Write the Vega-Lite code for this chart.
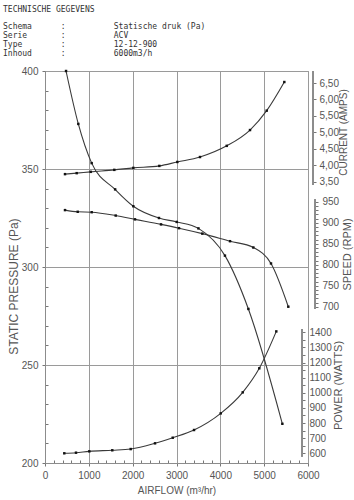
{
  "$schema": "https://vega.github.io/schema/vega-lite/v6.json",
  "width": 263,
  "height": 392,
  "autosize": {"type": "none"},
  "padding": {"left": 45, "top": 71, "right": 46, "bottom": 37},
  "title": {
    "text": "TECHNISCHE GEGEVENS",
    "subtitle": [
      "Schema\u00a0\u00a0\u00a0\u00a0\u00a0\u00a0:\u00a0\u00a0\u00a0\u00a0\u00a0\u00a0\u00a0\u00a0\u00a0\u00a0Statische druk (Pa)",
      "Serie\u00a0\u00a0\u00a0\u00a0\u00a0\u00a0\u00a0:\u00a0\u00a0\u00a0\u00a0\u00a0\u00a0\u00a0\u00a0\u00a0\u00a0ACV",
      "Type\u00a0\u00a0\u00a0\u00a0\u00a0\u00a0\u00a0\u00a0:\u00a0\u00a0\u00a0\u00a0\u00a0\u00a0\u00a0\u00a0\u00a0\u00a012-12-900",
      "Inhoud\u00a0\u00a0\u00a0\u00a0\u00a0\u00a0:\u00a0\u00a0\u00a0\u00a0\u00a0\u00a0\u00a0\u00a0\u00a0\u00a06000m3/h"
    ],
    "font": "DejaVu Sans Mono",
    "fontSize": 8,
    "fontWeight": "normal",
    "color": "#333333",
    "subtitleFont": "DejaVu Sans Mono",
    "subtitleFontSize": 8,
    "subtitleColor": "#333333",
    "subtitleLineHeight": 9,
    "subtitlePadding": 9,
    "anchor": "start",
    "frame": "group",
    "dx": -42,
    "offset": 8
  },
  "datasets": {
    "pressure": [
      {"airflow": 480, "value": 400},
      {"airflow": 760, "value": 373},
      {"airflow": 1065, "value": 353},
      {"airflow": 1600, "value": 339.6},
      {"airflow": 2015, "value": 331},
      {"airflow": 2600, "value": 325},
      {"airflow": 3005, "value": 323},
      {"airflow": 3500, "value": 319.7},
      {"airflow": 4105, "value": 305.8},
      {"airflow": 4640, "value": 278.6},
      {"airflow": 5415, "value": 220}
    ],
    "current": [
      {"airflow": 456, "value": 3.73},
      {"airflow": 723, "value": 3.76},
      {"airflow": 1043, "value": 3.8},
      {"airflow": 1581, "value": 3.86},
      {"airflow": 2015, "value": 3.92},
      {"airflow": 2608, "value": 3.98},
      {"airflow": 3019, "value": 4.1},
      {"airflow": 3536, "value": 4.25},
      {"airflow": 4146, "value": 4.59},
      {"airflow": 4677, "value": 5.07},
      {"airflow": 5058, "value": 5.66},
      {"airflow": 5460, "value": 6.53}
    ],
    "speed": [
      {"airflow": 456, "value": 930},
      {"airflow": 746, "value": 926},
      {"airflow": 1065, "value": 925},
      {"airflow": 1613, "value": 917},
      {"airflow": 2053, "value": 908},
      {"airflow": 2647, "value": 896},
      {"airflow": 3057, "value": 887},
      {"airflow": 3589, "value": 874},
      {"airflow": 4221, "value": 856},
      {"airflow": 4753, "value": 841},
      {"airflow": 5156, "value": 803},
      {"airflow": 5551, "value": 700}
    ],
    "power": [
      {"airflow": 440, "value": 600},
      {"airflow": 707, "value": 604},
      {"airflow": 1011, "value": 613},
      {"airflow": 1535, "value": 620},
      {"airflow": 1955, "value": 628},
      {"airflow": 2510, "value": 666},
      {"airflow": 2914, "value": 703},
      {"airflow": 3400, "value": 754},
      {"airflow": 4009, "value": 864},
      {"airflow": 4511, "value": 1003},
      {"airflow": 4889, "value": 1162},
      {"airflow": 5277, "value": 1406}
    ]
  },
  "config": {
    "view": {"stroke": "#8c8c8c", "strokeWidth": 1},
    "axis": {
      "labelFont": "Liberation Sans",
      "labelFontSize": 10,
      "labelColor": "#555555",
      "titleFont": "Liberation Sans",
      "titleFontSize": 11,
      "titleFontWeight": "normal",
      "titleColor": "#555555",
      "tickColor": "#777777",
      "domainColor": "#8c8c8c",
      "gridColor": "#9a9a9a",
      "labelOverlap": false,
      "labelFlush": false
    },
    "line": {"color": "#3a3a3a", "strokeWidth": 1.1, "interpolate": "monotone"},
    "point": {"color": "#111111", "shape": "square", "size": 6, "filled": true, "opacity": 1}
  },
  "encoding": {
    "x": {
      "field": "airflow",
      "type": "quantitative",
      "scale": {"domain": [0, 6000], "nice": false, "zero": false},
      "axis": {
        "title": "AIRFLOW (m³/hr)",
        "titleFontSize": 10,
        "titlePadding": 5,
        "values": [0,200,400,600,800,1000,1200,1400,1600,1800,2000,2200,2400,2600,2800,3000,3200,3400,3600,3800,4000,4200,4400,4600,4800,5000,5200,5400,5600,5800,6000],
        "labelExpr": "datum.value % 1000 === 0 ? datum.label : ''",
        "format": "d",
        "grid": true,
        "gridOpacity": {"condition": {"test": "datum.value % 1000 === 0", "value": 1}, "value": 0},
        "tickSize": {"condition": {"test": "datum.value % 1000 === 0", "value": 3}, "value": -3},
        "labelPadding": 4
      }
    }
  },
  "layer": [
    {
      "data": {"name": "pressure"},
      "encoding": {
        "y": {
          "field": "value",
          "type": "quantitative",
          "scale": {"domain": [200, 400], "nice": false, "zero": false},
          "axis": {
            "orient": "left",
            "title": "STATIC PRESSURE (Pa)",
            "titleFontSize": 12,
            "titleX": -32,
            "titleY": 215,
            "titleBaseline": "middle",
            "values": [200,210,220,230,240,250,260,270,280,290,300,310,320,330,340,350,360,370,380,390,400],
            "labelExpr": "datum.value % 50 === 0 ? datum.label : ''",
            "grid": true,
            "gridOpacity": {"condition": {"test": "datum.value % 50 === 0", "value": 1}, "value": 0},
            "tickSize": {"condition": {"test": "datum.value % 50 === 0", "value": 3}, "value": -3},
            "labelPadding": 4
          }
        }
      },
      "layer": [
        {"mark": {"type": "line"}},
        {"mark": {"type": "point"}}
      ]
    },
    {
      "data": {"name": "current"},
      "encoding": {
        "y": {
          "field": "value",
          "type": "quantitative",
          "scale": {"domain": [-5.05, 6.865], "nice": false, "zero": false},
          "axis": {
            "orient": "right",
            "offset": 5,
            "domain": false,
            "grid": false,
            "title": "CURRENT (AMPS)",
            "titleFontSize": 10,
            "titleAngle": 270,
            "titleBaseline": "middle",
            "titleX": 30,
            "titleY": 61,
            "values": [3.5, 4, 4.5, 5, 5.5, 6, 6.5],
            "labelExpr": "replace(format(datum.value, '.2f'), '.', ',')",
            "tickSize": 3,
            "labelPadding": 3
          }
        }
      },
      "layer": [
        {"mark": {"type": "line"}},
        {"mark": {"type": "point"}},
        {
          "mark": {"type": "rule", "color": "#8c8c8c", "xOffset": 5},
          "encoding": {"x": {"datum": 6000}, "y": {"datum": 3.4}, "y2": {"datum": 6.85}}
        }
      ]
    },
    {
      "data": {"name": "speed"},
      "encoding": {
        "y": {
          "field": "value",
          "type": "quantitative",
          "scale": {"domain": [327.9, 1261.2], "nice": false, "zero": false},
          "axis": {
            "orient": "right",
            "offset": 7,
            "domain": false,
            "grid": false,
            "title": "SPEED (RPM)",
            "titleAngle": 270,
            "titleBaseline": "middle",
            "titleX": 32,
            "titleY": 183,
            "values": [700,710,720,730,740,750,760,770,780,790,800,810,820,830,840,850,860,870,880,890,900,910,920,930,940,950],
            "labelExpr": "datum.value % 50 === 0 ? datum.label : ''",
            "tickSize": 3,
            "labelPadding": 4
          }
        }
      },
      "layer": [
        {"mark": {"type": "line"}},
        {"mark": {"type": "point"}},
        {
          "mark": {"type": "rule", "color": "#8c8c8c", "xOffset": 7},
          "encoding": {"x": {"datum": 6000}, "y": {"datum": 695}, "y2": {"datum": 955}}
        }
      ]
    },
    {
      "data": {"name": "power"},
      "encoding": {
        "y": {
          "field": "value",
          "type": "quantitative",
          "scale": {"domain": [535.9, 3127.6], "nice": false, "zero": false},
          "axis": {
            "orient": "right",
            "offset": -6,
            "domain": false,
            "grid": false,
            "title": "POWER (WATTS)",
            "titleAngle": 270,
            "titleBaseline": "middle",
            "titleX": 36,
            "titleY": 314,
            "values": [600,650,700,750,800,850,900,950,1000,1050,1100,1150,1200,1250,1300,1350,1400],
            "labelExpr": "datum.value % 100 === 0 ? datum.label : ''",
            "format": "d",
            "tickSize": 3,
            "labelPadding": 4
          }
        }
      },
      "layer": [
        {"mark": {"type": "line"}},
        {"mark": {"type": "point"}},
        {
          "mark": {"type": "rule", "color": "#8c8c8c", "xOffset": -6},
          "encoding": {"x": {"datum": 6000}, "y": {"datum": 580}, "y2": {"datum": 1420}}
        }
      ]
    }
  ],
  "resolve": {"scale": {"y": "independent"}, "axis": {"y": "independent"}}
}
